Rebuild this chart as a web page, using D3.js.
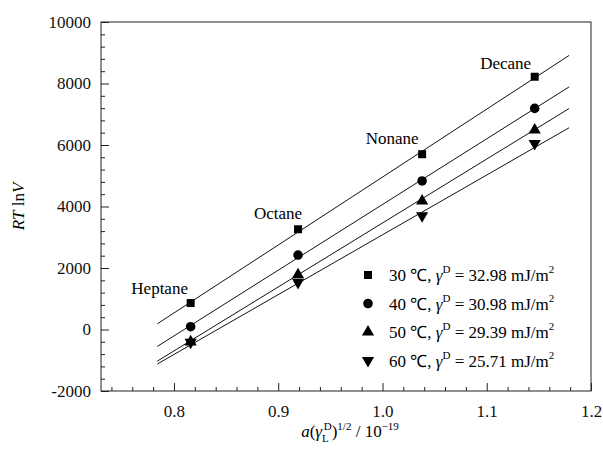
<!DOCTYPE html>
<html>
<head>
<meta charset="utf-8">
<script src="https://cdn.jsdelivr.net/npm/d3@7"></script>
</head>
<body style="margin:0">
<div id="app"></div>
<script>
// alkane probes and x positions a(gamma_L^D)^1/2 / 1e-19
const alkanes = ["Heptane", "Octane", "Nonane", "Decane"];
const xValues = [0.816, 0.919, 1.038, 1.146];

// RT lnV per temperature
const temps = ["30", "40", "50", "60"];
const gammaD = ["32.98", "30.98", "29.39", "25.71"];
const rt30 = [860, 3260, 5700, 8220];
const rt40 = [90, 2420, 4830, 7190];
const rt50 = [-370, 1810, 4210, 6520];
const rt60 = [-450, 1500, 3670, 6020];

// extent of the fitted lines
const fitExtent = [0.784, 1.179];

const xTicks = [0.8, 0.9, 1.0, 1.1, 1.2];
const yTicks = [-2000, 0, 2000, 4000, 6000, 8000, 10000];

const width = 603;
const height = 450;
const margin = { left: 101, right: 12, top: 22, bottom: 59 };
const FONT = "Liberation Serif";
const GAMMA = "\u03b3";
const DEGC = "\u2103";

const x = d3.scaleLinear().domain([0.73, 1.2]).range([margin.left, width - margin.right]);
const y = d3.scaleLinear().domain([-2000, 10000]).range([height - margin.bottom, margin.top]);

const svg = d3.select("#app").append("svg")
  .attr("width", width).attr("height", height);

const series = [rt30, rt40, rt50, rt60].map((vals, i) => ({
  temp: temps[i],
  gamma: gammaD[i],
  points: vals.map((v, j) => [xValues[j], v]),
}));

const symbols = [d3.symbolSquare, d3.symbolCircle, d3.symbolTriangle, d3.symbolTriangle];
const symSize = [64, 72, 64, 64];
const symRot = [0, 0, 0, 180];

// least squares fit
function fit(points) {
  const mx = d3.mean(points, d => d[0]);
  const my = d3.mean(points, d => d[1]);
  const sxy = d3.sum(points, d => (d[0] - mx) * (d[1] - my));
  const sxx = d3.sum(points, d => (d[0] - mx) ** 2);
  const b = sxy / sxx;
  return xv => my + b * (xv - mx);
}

// FIT LINES
const line = d3.line().x(d => x(d[0])).y(d => y(d[1]));
series.forEach(s => {
  const f = fit(s.points);
  svg.append("path")
    .attr("d", line(fitExtent.map(xv => [xv, f(xv)])))
    .attr("fill", "none")
    .attr("stroke", "#111")
    .attr("stroke-width", 1);
});

// MARKERS
series.forEach((s, i) => {
  svg.append("g").selectAll("path").data(s.points).join("path")
    .attr("d", d3.symbol().type(symbols[i]).size(symSize[i]))
    .attr("transform", d => `translate(${x(d[0])},${y(d[1]) + (i >= 2 ? (i === 2 ? 1 : -1) : 0)}) rotate(${symRot[i]})`)
    .attr("fill", "#000");
});

// ALKANE LABELS
const labelOffset = [[-31, -9], [-20, -10], [-30, -10], [-29, -8]];
svg.append("g").selectAll("text").data(alkanes).join("text")
  .attr("x", (d, i) => x(xValues[i]) + labelOffset[i][0])
  .attr("y", (d, i) => y(rt30[i]) + labelOffset[i][1])
  .attr("text-anchor", "middle")
  .attr("font-family", FONT)
  .attr("font-size", 17)
  .text(d => d);

// FRAME
svg.append("rect")
  .attr("x", margin.left).attr("y", margin.top)
  .attr("width", width - margin.right - margin.left)
  .attr("height", height - margin.bottom - margin.top)
  .attr("fill", "none").attr("stroke", "#222").attr("stroke-width", 1);

// AXES (ticks inward)
const xAxis = d3.axisBottom(x).tickValues(xTicks).tickFormat(d3.format(".1f")).tickSizeInner(-8).tickSizeOuter(0).tickPadding(14);
const xMinor = d3.axisBottom(x).tickValues(d3.range(0.74, 1.2, 0.02).filter(v => Math.abs(v * 10 - Math.round(v * 10)) > 1e-6)).tickFormat("").tickSizeInner(-4).tickSizeOuter(0);
const yAxis = d3.axisLeft(y).tickValues(yTicks).tickFormat(d => String(d)).tickSizeInner(-8).tickSizeOuter(0).tickPadding(10);
const yMinor = d3.axisLeft(y).tickValues(d3.range(-1600, 10000, 400).filter(v => v % 2000 !== 0)).tickFormat("").tickSizeInner(-4).tickSizeOuter(0);

[[xAxis, "x"], [xMinor, "x"], [yAxis, "y"], [yMinor, "y"]].forEach(([ax, k]) => {
  const g = svg.append("g")
    .attr("transform", k === "x" ? `translate(0,${height - margin.bottom})` : `translate(${margin.left},0)`)
    .call(ax)
    .attr("font-family", FONT)
    .attr("font-size", 17);
  g.select(".domain").remove();
  g.selectAll("line").attr("stroke", "#222");
  g.selectAll("text").attr("fill", "#111");
});

// AXIS TITLES
const yTitle = svg.append("text")
  .attr("transform", `translate(24,${(margin.top + height - margin.bottom) / 2}) rotate(-90)`)
  .attr("text-anchor", "middle")
  .attr("font-family", FONT)
  .attr("font-size", 17);
yTitle.append("tspan").attr("font-style", "italic").text("RT");
yTitle.append("tspan").text(" ln");
yTitle.append("tspan").attr("font-style", "italic").text("V");

const xTitle = svg.append("text")
  .attr("x", 350).attr("y", 437)
  .attr("text-anchor", "middle")
  .attr("font-family", FONT)
  .attr("font-size", 17);
xTitle.append("tspan").attr("font-style", "italic").text("a");
xTitle.append("tspan").text("(");
xTitle.append("tspan").attr("font-style", "italic").text(GAMMA);
xTitle.append("tspan").attr("font-size", 11).attr("dy", 5).text("L");
xTitle.append("tspan").attr("font-size", 11).attr("dx", -5).attr("dy", -12).text("D");
xTitle.append("tspan").attr("dy", 7).text(")");
xTitle.append("tspan").attr("font-size", 11).attr("dy", -7).text("1/2");
xTitle.append("tspan").attr("dy", 7).text(" / 10");
xTitle.append("tspan").attr("font-size", 11).attr("dy", -7).text("\u221219");

// LEGEND
const legend = svg.append("g").attr("transform", "translate(368,275)");
series.forEach((s, i) => {
  const row = legend.append("g").attr("transform", `translate(0,${i * 28.5})`);
  row.append("path")
    .attr("d", d3.symbol().type(symbols[i]).size(symSize[i])())
    .attr("transform", `rotate(${symRot[i]})`)
    .attr("fill", "#000");
  const t = row.append("text").attr("x", 21).attr("y", 6)
    .attr("font-family", FONT).attr("font-size", 17);
  t.append("tspan").text(`${s.temp} ${DEGC}, `);
  t.append("tspan").attr("font-style", "italic").text(GAMMA);
  t.append("tspan").attr("font-size", 11).attr("dy", -8).text("D");
  t.append("tspan").attr("dy", 8).text(` = ${s.gamma} mJ/m`);
  t.append("tspan").attr("font-size", 11).attr("dy", -8).text("2");
});
</script>
</body>
</html>
